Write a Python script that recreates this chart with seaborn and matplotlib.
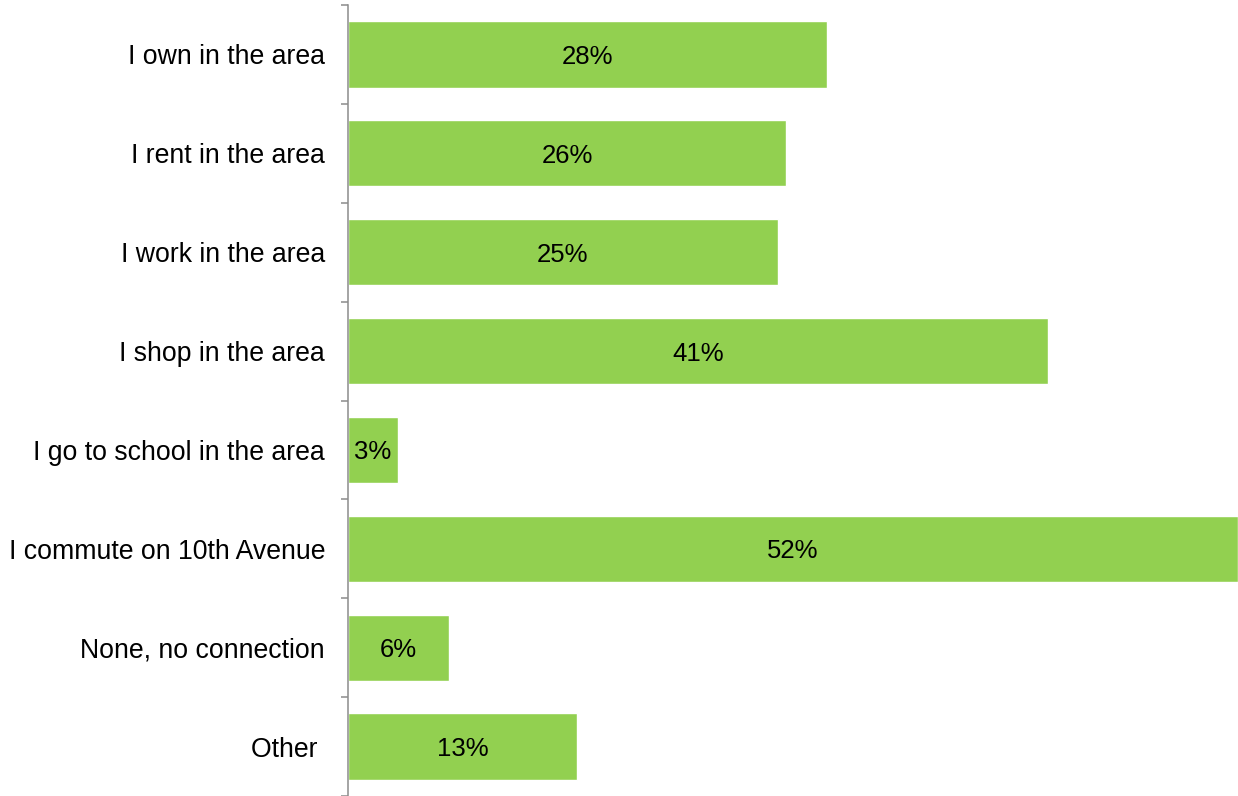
import seaborn as sns
import matplotlib.pyplot as plt
import pandas as pd

categorias = ["I own in the area", "I rent in the area", "I work in the area",
              "I shop in the area", "I go to school in the area",
              "I commute on 10th Avenue", "None, no connection", "Other "]
valores = [28.0, 25.6, 25.1, 40.9, 2.9, 52.0, 5.9, 13.4]
rotulos = ["28%", "26%", "25%", "41%", "3%", "52%", "6%", "13%"]

dados = pd.DataFrame({"categoria": categorias, "valor": valores})

sns.set_style("white")
plt.rcParams['font.family'] = ['Liberation Sans', 'DejaVu Sans']

fig = plt.figure(figsize=(12.38, 7.96), dpi=100)
graf = fig.add_axes([348 / 1238, 0.0, 1 - 348 / 1238, 1 - 5 / 796])

# barras horizontais
sns.barplot(data=dados, x="valor", y="categoria", orient="h", color="#92D050",
            saturation=1, width=0.67, ax=graf)

# rótulos centralizados nas barras
for barra, rotulo in zip(graf.patches, rotulos):
    graf.text(barra.get_x() + barra.get_width() / 2,
              barra.get_y() + barra.get_height() / 2, rotulo,
              ha="center", va="center_baseline", fontsize=18.5, color="black")

graf.set_xlim(0, 52)
graf.set_ylim(7.5, -0.5)
graf.set_xlabel("")
graf.set_ylabel("")
graf.set_xticks([])

# marcas entre as categorias
graf.set_yticks([i - 0.5 for i in range(len(categorias) + 1)], minor=True)
graf.tick_params(axis="y", which="major", length=0, pad=16.5, labelsize=19.2,
                 labelcolor="black")
graf.tick_params(axis="y", which="minor", length=5, width=1.1, color="#8C8C8C",
                 left=True)

for lado in ["top", "right", "bottom"]:
    graf.spines[lado].set_visible(False)
graf.spines["left"].set_color("#8C8C8C")
graf.spines["left"].set_linewidth(1.1)

fig.savefig("out.png", dpi=100)
plt.close(fig)
